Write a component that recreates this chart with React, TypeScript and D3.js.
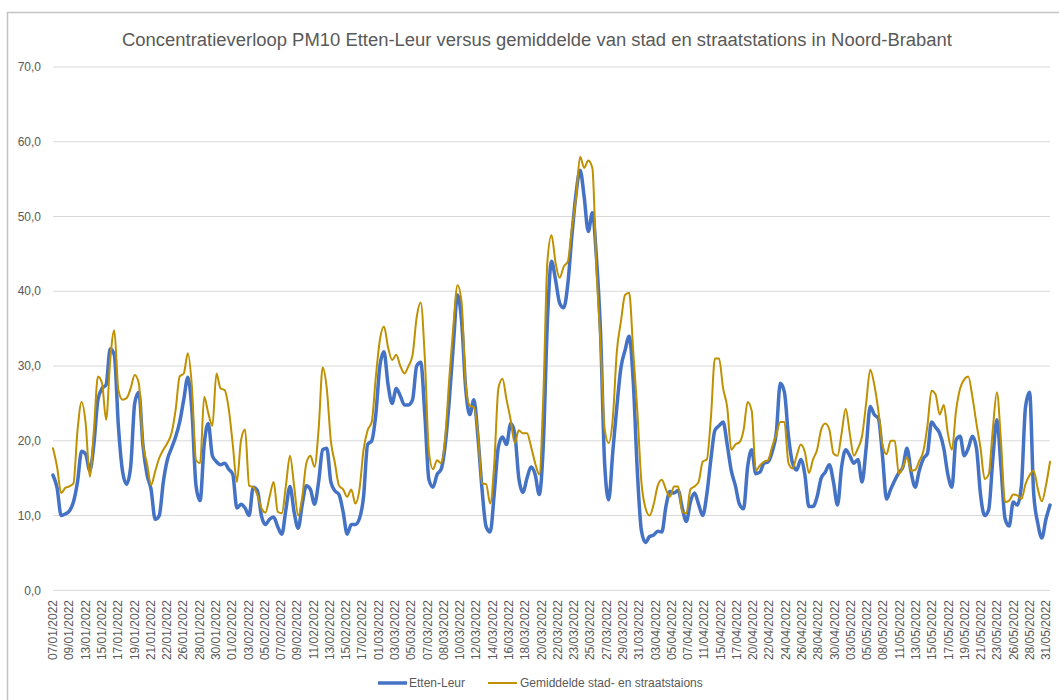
import * as d3 from "d3";

const dateLabels = [
  "07/01/2022", "09/01/2022", "13/01/2022", "15/01/2022", "17/01/2022", "19/01/2022", "21/01/2022",
  "22/01/2022", "26/01/2022", "28/01/2022", "30/01/2022", "01/02/2022", "03/02/2022", "05/02/2022",
  "07/02/2022", "09/02/2022", "11/02/2022", "13/02/2022", "15/02/2022", "17/02/2022", "01/03/2022",
  "03/03/2022", "05/03/2022", "07/03/2022", "08/03/2022", "10/03/2022", "12/03/2022", "14/03/2022",
  "16/03/2022", "18/03/2022", "20/03/2022", "22/03/2022", "23/03/2022", "25/03/2022", "27/03/2022",
  "29/03/2022", "31/03/2022", "03/04/2022", "05/04/2022", "07/04/2022", "11/04/2022", "15/04/2022",
  "17/04/2022", "20/04/2022", "22/04/2022", "24/04/2022", "26/04/2022", "28/04/2022", "30/04/2022",
  "03/05/2022", "05/05/2022", "08/05/2022", "11/05/2022", "13/05/2022", "15/05/2022", "17/05/2022",
  "19/05/2022", "21/05/2022", "23/05/2022", "26/05/2022", "28/05/2022", "31/05/2022",
];

// Etten-Leur (blauw)
const ettenLeur = [
  15.4, 13.7, 10.0, 10.2, 10.6, 11.8, 14.5, 18.6, 18.2, 16.0, 19.5, 25.5, 27.0, 27.5, 32.3, 31.5,
  22.0, 16.0, 14.2, 16.5, 25.0, 26.5, 19.5, 15.5, 13.5, 9.5, 10.0, 14.5, 17.5, 19.0, 20.5, 22.5,
  25.5, 28.5, 24.0, 14.0, 12.0, 19.5, 22.3, 18.0, 17.2, 16.8, 17.0, 16.2, 15.5, 11.0, 11.5, 11.0,
  10.0, 13.8, 13.4, 10.0, 8.8, 9.5, 9.8, 8.5, 7.5, 10.8, 13.9, 10.5, 8.3, 11.5, 14.0, 13.5,
  11.5, 14.5, 18.8, 19.0, 14.5, 13.3, 12.8, 10.5, 7.5, 8.8, 8.8, 9.6, 12.5, 19.5, 20.0, 23.5,
  30.0, 31.9, 27.5, 25.0, 27.0, 26.0, 24.8, 24.8, 25.5, 30.0, 30.5, 23.5, 14.8, 13.8, 15.5, 16.2,
  19.5, 25.5, 33.0, 39.5, 36.0, 27.0, 23.5, 25.5, 20.5, 13.5, 8.5, 7.8, 13.0, 19.2, 20.5, 19.5,
  22.3, 21.0, 15.0, 13.1, 15.0, 16.5, 15.5, 12.8, 19.5, 36.0, 44.0, 41.5, 38.4, 37.8, 41.0, 47.5,
  53.0, 56.2, 52.6, 48.0, 50.5, 44.5, 34.5, 17.0, 12.1, 18.5, 24.6, 29.8, 32.1, 34.0, 28.0, 16.0,
  8.0, 6.4, 7.2, 7.4, 7.9, 7.8, 11.2, 13.2, 13.0, 13.4, 11.0, 9.2, 11.8, 13.0, 11.5, 10.0,
  12.8, 17.5, 21.4, 22.0, 22.5, 19.5, 16.0, 14.0, 11.5, 10.9, 16.5, 18.8, 15.6, 15.8, 17.0, 17.2,
  18.5, 21.0, 27.7, 26.5, 20.6, 17.0, 16.1, 17.5, 15.5, 11.2, 11.2, 12.5, 15.0, 15.8, 16.8, 14.5,
  11.4, 16.5, 18.8, 18.0, 17.0, 17.5, 14.5, 19.0, 24.6, 23.5, 23.0, 18.0, 12.2, 13.5, 14.7, 15.7,
  16.5, 19.0, 15.8, 13.8, 16.0, 17.6, 18.3, 22.5, 21.8, 21.0, 19.0, 15.5, 13.8, 20.1, 20.6, 18.0,
  19.0, 20.6, 19.0, 12.8, 10.0, 10.8, 17.5, 22.8, 16.5, 9.6, 8.6, 11.8, 11.4, 14.0, 24.5, 26.5,
  13.0, 9.0, 7.0, 9.5, 11.4,
];

// Gemiddelde stad- en straatstations (goud)
const gemiddelde = [
  19.0, 16.5, 13.0, 13.7, 13.9, 14.3, 21.4, 25.2, 22.3, 15.2, 21.4, 28.6, 27.7, 22.8, 30.8, 34.8,
  26.8, 25.5, 25.7, 27.0, 28.8, 27.7, 19.7, 17.0, 14.1, 15.9, 17.7, 18.8, 19.7, 21.0, 24.1, 28.6,
  29.0, 31.7, 27.2, 17.4, 17.0, 25.9, 23.7, 22.0, 29.0, 27.0, 26.8, 24.3, 19.5, 14.5, 20.0, 21.5,
  14.0, 13.8, 12.8, 11.0, 10.4, 12.5, 14.5, 10.5, 10.3, 14.0, 18.0, 14.0, 10.0, 12.5, 17.0, 18.0,
  16.5, 21.5, 29.8, 27.0, 20.0, 17.0, 14.0, 13.5, 12.5, 13.5, 11.6, 13.5, 18.8, 21.4, 22.5, 28.5,
  33.5, 35.3, 32.5, 30.8, 31.5, 30.0, 29.0, 30.0, 31.5, 36.5, 38.5, 31.0, 18.5, 16.2, 17.4, 17.0,
  20.5, 28.5, 35.5, 40.8, 38.5, 27.5, 24.7, 24.5, 21.0, 14.3, 14.2, 11.6, 17.0, 27.0, 28.3, 25.5,
  22.8, 19.7, 21.4, 21.0, 21.0, 19.2, 17.0, 15.5, 26.0, 44.0, 47.5, 43.8, 41.8, 43.3, 44.0, 48.5,
  52.5, 58.0, 56.5, 57.5, 56.5, 43.0, 33.0, 21.6, 19.7, 23.0, 32.0, 36.0, 39.5, 39.8, 32.0, 24.0,
  14.5, 11.0, 10.0, 11.5, 14.0, 14.8, 13.5, 12.5, 13.9, 13.9, 10.5, 10.3, 13.5, 13.9, 14.5, 17.2,
  17.5, 23.0, 31.0, 31.0, 27.0, 24.5, 18.8, 19.5, 19.8, 21.4, 25.2, 24.0, 16.0, 16.7, 17.2, 17.4,
  19.2, 20.8, 22.5, 22.5, 17.0, 16.3, 18.0, 19.5, 18.5, 15.7, 17.5, 18.8, 21.5, 22.3, 21.5, 18.3,
  18.0, 21.0, 24.3, 21.0, 18.0, 19.0, 20.6, 25.0, 29.5, 27.5, 24.0, 19.5, 18.2, 20.0, 20.0, 15.6,
  16.5, 17.8, 16.0, 16.1, 17.3, 18.6, 22.0, 26.7, 26.2, 23.5, 24.8, 21.0, 18.8, 24.0, 27.0, 28.2,
  28.6, 25.9, 22.3, 19.0, 14.9, 15.5, 21.5, 26.5, 20.0, 11.8, 12.0, 12.8, 12.7, 12.2, 14.2, 15.4,
  16.0, 13.6, 11.9, 14.0, 17.2,
];

const seriesNames = ["Etten-Leur", "Gemiddelde stad- en straatstaions"];
const seriesColors = ["#4472C4", "#BF9000"];

const font = "'Liberation Sans', Arial, sans-serif";
const textColor = "#595959";

const nl = d3.formatLocale({ decimal: ",", thousands: ".", grouping: [3], currency: ["€", ""] });
const fmt = nl.format(".1f");

export default function App() {
  const x = d3.scaleLinear().domain([0, ettenLeur.length - 1]).range([53, 1050]);
  const xLab = d3.scalePoint().domain(dateLabels).range([53, 1046]);
  const y = d3.scaleLinear().domain([0, 70]).range([590.3, 67]);

  // dense meetreeks: monotone curve houdt het verloop vloeiend zonder overshoot
  const line = d3
    .line<number>()
    .x((_, i) => x(i))
    .y((d) => y(d))
    .curve(d3.curveMonotoneX);

  return (
    <svg
      width={1059}
      height={700}
      style={{ position: "absolute", left: 0, top: 0, fontFamily: font }}
    >
      <rect x={0} y={0} width={1059} height={700} fill="#fff" />
      <rect x={7.5} y={12.5} width={1080} height={720} fill="#fff" stroke="#c4c4c4" strokeWidth={1.5} />

      <text
        x={537}
        y={46}
        textAnchor="middle"
        fontSize={18}
        fill={textColor}
        textLength={830}
        lengthAdjust="spacingAndGlyphs"
      >
        Concentratieverloop PM10 Etten-Leur versus gemiddelde van stad en straatstations in Noord-Brabant
      </text>

      {y.ticks(7).map((t) => (
        <g key={t}>
          <line x1={53} x2={1050} y1={y(t)} y2={y(t)} stroke="#d9d9d9" strokeWidth={1} />
          <text x={41} y={y(t)} dy="0.35em" textAnchor="end" fontSize={12} fill={textColor}>
            {fmt(t)}
          </text>
        </g>
      ))}

      {dateLabels.map((d) => (
        <text
          key={d}
          transform={`translate(${xLab(d)},600) rotate(-90)`}
          dy="0.35em"
          textAnchor="end"
          fontSize={12}
          fill={textColor}
        >
          {d}
        </text>
      ))}

      <path
        d={line(ettenLeur) ?? ""}
        fill="none"
        stroke={seriesColors[0]}
        strokeWidth={3.5}
        strokeLinejoin="round"
        strokeLinecap="round"
      />
      <path
        d={line(gemiddelde) ?? ""}
        fill="none"
        stroke={seriesColors[1]}
        strokeWidth={2}
        strokeLinejoin="round"
        strokeLinecap="round"
      />

      <g>
        <line x1={378} x2={407} y1={683} y2={683} stroke={seriesColors[0]} strokeWidth={3.5} />
        <text x={409} y={683} dy="0.35em" fontSize={12} fill={textColor}>
          {seriesNames[0]}
        </text>
        <line x1={488} x2={517} y1={683} y2={683} stroke={seriesColors[1]} strokeWidth={2} />
        <text x={520} y={683} dy="0.35em" fontSize={12} fill={textColor}>
          {seriesNames[1]}
        </text>
      </g>
    </svg>
  );
}
